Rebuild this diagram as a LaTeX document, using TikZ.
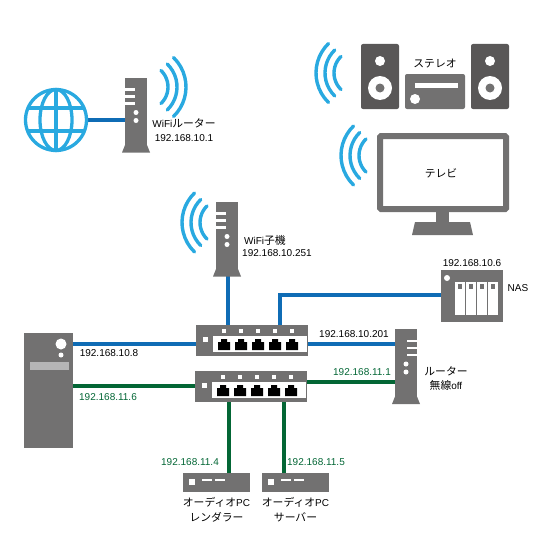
\documentclass[tikz,border=0pt]{standalone}
\usepackage{fontspec}
\setmainfont{Liberation Sans}
\newfontfamily\cjk{Noto Sans CJK JP}[Scale=1.08]
\newcommand{\jp}[1]{{\cjk #1}}
\usetikzlibrary{positioning,backgrounds}
\definecolor{wavecol}{HTML}{29A9E0}
\definecolor{lanblue}{HTML}{0F6CB5}
\definecolor{langreen}{HTML}{036635}
\definecolor{devgray}{HTML}{727171}
\definecolor{darkgray}{HTML}{595757}
\definecolor{bargray}{HTML}{B5B5B6}

\begin{document}
\begin{tikzpicture}[x=1pt, y=-1pt,
        device/.style={rectangle, fill=devgray, inner sep=0pt, outer sep=0pt},
        speaker/.style={device, fill=darkgray, rounded corners=2pt, minimum width=38pt, minimum height=65pt},
        router/.style={device, minimum width=22pt, minimum height=67pt},
        switchbox/.style={device, minimum width=112pt, minimum height=31pt},
        audiobox/.style={device, minimum width=67pt, minimum height=19pt},
        label/.style={font=\fontsize{10}{14}\selectfont, inner sep=0pt, align=center},
        greenlabel/.style={label, text=langreen},
        blueline/.style={draw=lanblue, line width=3.5pt},
        greenline/.style={draw=langreen, line width=3.5pt},
        wave/.style={draw=wavecol, line width=3.4pt, line cap=round},
        wifiwaves/.pic={
            \foreach \r in {23,32,41}
                \draw[wave] (46:\r) arc (46:-46:\r);
        },
        routerparts/.pic={
            \fill[devgray] (-11,33.5) -- (11,33.5) -- (14,41) -- (-14,41) -- cycle;
            \foreach \s in {-22,-15,-8}
                \fill[white] (-11,\s-1.2) rectangle (-1,\s+1.2);
            \fill[white] (0,1) circle (2.5) (0,9) circle (2.5);
        },
        switchparts/.pic={
            \fill[white] (-39,-4.5) rectangle (55,11.5);
            \fill[white] (-49.5,-4) rectangle (-44.5,1);
            \foreach \p in {-28,-11,6,23,40} {
                \fill[white] (\p-2,-11.5) rectangle (\p+2,-7.5);
                \fill[black] (\p-6,9.5) -- (\p-6,1.5) -- (\p-3,1.5) -- (\p-3,-1.5) -- (\p+3,-1.5)
                    -- (\p+3,1.5) -- (\p+6,1.5) -- (\p+6,9.5) -- cycle;
            }
        },
        audioparts/.pic={
            \fill[white] (-27.5,-3.5) rectangle (-21.5,2.5);
            \fill[white] (-14.5,-3.5) rectangle (-4.5,-1.5);
            \fill[white] (-1.5,-3.5) rectangle (8.5,-1.5);
        },
        speakerparts/.pic={
            \fill[white] (0,-15.5) circle (5);
            \fill[white] (0,11.5) circle (12);
            \fill[devgray] (0,11.5) circle (4.5);
        }]

    \useasboundingbox (0,0) rectangle (549,551);

    % internet side
    \node[circle, draw=wavecol, line width=3.3pt, minimum size=61pt, inner sep=0pt] (globe) at (56,120) {};
    \draw[draw=wavecol, line width=3.3pt] (globe.north) -- (globe.south);
    \draw[draw=wavecol, line width=3.3pt] (56,120) ellipse (16 and 30.5);
    \draw[draw=wavecol, line width=3.3pt] (28,108) -- (84,108) (28,131) -- (84,131);

    \node[router] (wifirouter) at (136,111.5) {};
    \pic at (wifirouter) {routerparts};
    \pic at (145,87) {wifiwaves};
    \node[label] at (184,130) {WiFi\jp{ルーター}\\192.168.10.1};

    % stereo and tv
    \pic[rotate=180] at (357,73) {wifiwaves};
    \node[speaker] (spkleft) at (380,76.5) {};
    \node[speaker] (spkright) at (490,76.5) {};
    \pic at (spkleft) {speakerparts};
    \pic at (spkright) {speakerparts};
    \node[device, rounded corners=2pt, minimum width=60pt, minimum height=35pt] (amp) at (435,91.5) {};
    \fill[white] (415,83) rectangle (458,88);
    \fill[white] (415,99) circle (5);
    \node[label, above=6pt of amp] {\jp{ステレオ}};

    \pic[rotate=180] at (382,155.5) {wifiwaves};
    \fill[devgray] (436,212) rectangle (449,223);
    \fill[devgray] (415,222) -- (470,222) -- (473,235) -- (412,235) -- cycle;
    \node[device, fill=white, draw=devgray, line width=6pt, rounded corners=1pt, minimum width=126pt, minimum height=73pt] (tv) at (443,172.5) {};
    \node[label] at (441,173) {\jp{テレビ}};

    % wifi child
    \node[router] (wifichild) at (227,235.5) {};
    \pic at (wifichild) {routerparts};
    \pic[rotate=180] at (223,222.5) {wifiwaves};
    \node[label] at (265,240) {WiFi\jp{子機}};
    \node[label] at (277,253) {192.168.10.251};

    % switches
    \node[switchbox] (swblue) at (252,340.5) {};
    \pic at (swblue) {switchparts};
    \node[switchbox] (swgreen) at (251,386.5) {};
    \pic at (swgreen) {switchparts};

    % nas
    \node[device, minimum width=62pt, minimum height=52pt] (nas) at (472,296) {};
    \fill[white] (447,278) circle (3);
    \foreach \b in {455,466,477,488} {
        \fill[white] (\b,282) rectangle (\b+9.5,315);
        \fill[devgray] (\b+2.5,284) rectangle (\b+7,288.5);
    }
    \node[label, above=3.5pt of nas] {192.168.10.6};
    \node[label] at (518,288) {NAS};

    % router and pc
    \node[router, minimum height=68pt] (homerouter) at (406,363) {};
    \pic[xscale=-1] at (homerouter) {routerparts};
    \node[label] at (446,378.5) {\jp{ルーター}\\\jp{無線}off};

    \node[device, minimum width=49pt, minimum height=115pt] (pc) at (48.5,390.5) {};
    \fill[white] (61,344) circle (5.5) (61,355) circle (2.5);
    \fill[bargray] (30,362) rectangle (69,370);

    % audio boxes
    \node[audiobox] (renderer) at (216.5,482.5) {};
    \pic at (renderer) {audioparts};
    \node[label, below=5pt of renderer] {\jp{オーディオ}PC\\[1pt]\jp{レンダラー}};
    \node[audiobox] (server) at (295.5,482.5) {};
    \pic at (server) {audioparts};
    \node[label, below=5pt of server] {\jp{オーディオ}PC\\[1pt]\jp{サーバー}};

    % ports where lines meet the switches
    \coordinate (swblueleft) at (196,344);
    \coordinate (swblueright) at (308,344);
    \coordinate (swgreenleft) at (195,386);
    \coordinate (swgreenright) at (307,382);
    \coordinate (swbluetop) at (280,325);
    \coordinate (swbluemid) at (228,325);
    \coordinate (nasport) at (441,295);
    \coordinate (rendererport) at (229,473);
    \coordinate (serverport) at (284,473);

    \begin{scope}[on background layer]
        \draw[blueline] (globe) -- (globe -| wifirouter.west);
        \draw[blueline] (swbluemid) -- (swbluemid |- wifichild.south);
        \draw[blueline] (swbluetop) -- (swbluetop |- nasport) -- (nasport);
        \draw[blueline] (swblueleft) -- (swblueleft -| pc.east);
        \draw[blueline] (swblueright) -- (swblueright -| homerouter.west);
        \draw[greenline] (swgreenleft) -- (swgreenleft -| pc.east);
        \draw[greenline] (swgreenright) -- (swgreenright -| homerouter.west);
        \draw[greenline] (rendererport) -- (rendererport |- swgreen.south);
        \draw[greenline] (serverport) -- (serverport |- swgreen.south);
    \end{scope}

    % addresses on the lines
    \node[label] at (109,353) {192.168.10.8};
    \node[greenlabel] at (108,397) {192.168.11.6};
    \node[label] at (354,334) {192.168.10.201};
    \node[greenlabel] at (362,372) {192.168.11.1};
    \node[greenlabel] at (190,462) {192.168.11.4};
    \node[greenlabel] at (316,462) {192.168.11.5};

\end{tikzpicture}
\end{document}
